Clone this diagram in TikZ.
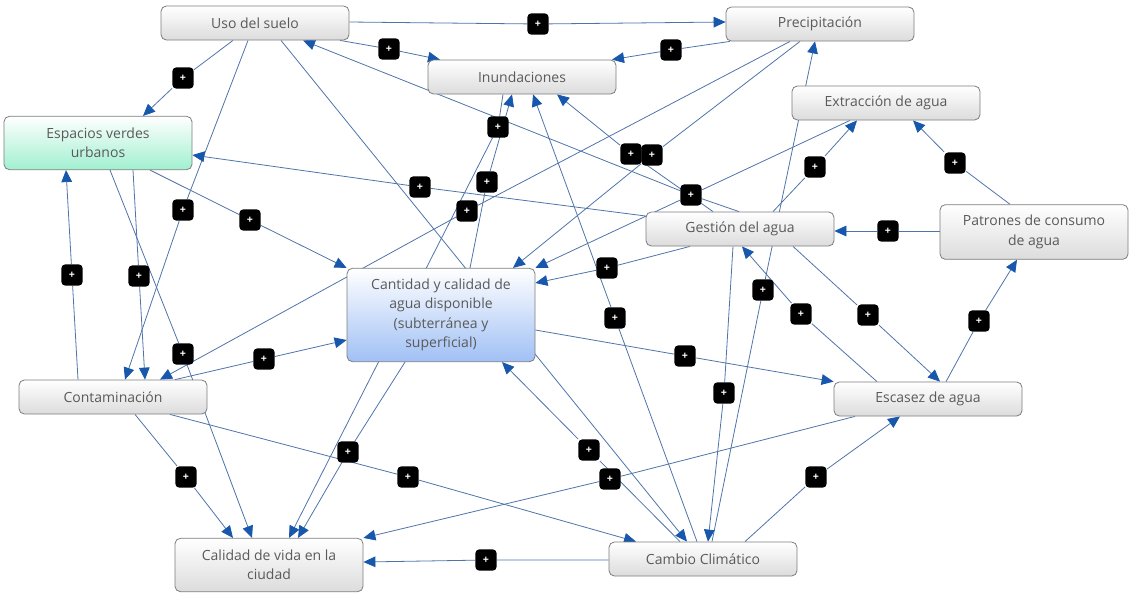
\documentclass[tikz,border=0pt]{standalone}
\usepackage{fontspec}
\setmainfont{Open Sans}
\usetikzlibrary{arrows.meta,backgrounds}
\definecolor{boxline}{RGB}{125,125,125}
\definecolor{boxlow}{RGB}{220,220,220}
\definecolor{txtgray}{RGB}{90,90,90}
\definecolor{linkblue}{RGB}{78,116,170}
\definecolor{tipblue}{RGB}{24,88,172}
\definecolor{mintlow}{RGB}{160,240,208}
\definecolor{bluelow}{RGB}{160,192,245}
\tikzset{concept/.style={draw=boxline,line width=.6pt,rounded corners=4pt,top color=white,
    bottom color=boxlow,minimum width=141pt,minimum height=25.5pt,align=center,text=txtgray,
    font=\fontsize{10.5}{14.5}\selectfont,inner sep=2pt},
  plus/.style={fill=black,rounded corners=3pt,minimum size=16pt,inner sep=0pt,text=white,
    font=\fontsize{8}{8}\selectfont\bfseries},
  link/.style={draw=linkblue,line width=.6pt,-{Triangle[length=9pt,width=8pt,color=tipblue]}},
  plain/.style={draw=linkblue,line width=.6pt}}

\begin{document}
\begin{tikzpicture}[x=.75pt,y=-.75pt]
  \path[use as bounding box] (0,0) rectangle (1130,594);
  % concepts
  \node[concept] (uso) at (255,23) {Uso del suelo};
  \node[concept] (prec) at (820,24) {Precipitación};
  \node[concept] (inun) at (522,77) {Inundaciones};
  \node[concept] (extr) at (886,103) {Extracción de agua};
  \node[concept,minimum height=40pt,bottom color=mintlow] (esp) at (98,143) {Espacios verdes\\urbanos};
  \node[concept] (gest) at (740,229) {Gestión del agua};
  \node[concept,minimum height=41pt] (patr) at (1034,232) {Patrones de consumo\\de agua};
  \node[concept,minimum height=70pt,bottom color=bluelow] (cant) at (441,315)
    {Cantidad y calidad de\\agua disponible\\(subterránea y\\superficial)};
  \node[concept] (cont) at (113,397) {Contaminación};
  \node[concept] (esc) at (928,399) {Escasez de agua};
  \node[concept,minimum height=40pt] (cal) at (269,565) {Calidad de vida en la\\ciudad};
  \node[concept] (camb) at (703,559) {Cambio Climático};
  % linking phrases
  \node[plus] (p1) at (538,24) {+};
  \node[plus] (p2) at (389,49) {+};
  \node[plus] (p3) at (671,50) {+};
  \node[plus] (p4) at (183,78) {+};
  \node[plus] (p5) at (498,127) {+};
  \node[plus] (p6) at (631,154) {+};
  \node[plus] (p7) at (652,155) {+};
  \node[plus] (p8) at (815,167) {+};
  \node[plus] (p9) at (955,163) {+};
  \node[plus] (p10) at (487,182) {+};
  \node[plus] (p11) at (420,187) {+};
  \node[plus] (p12) at (691,195) {+};
  \node[plus] (p13) at (183,210) {+};
  \node[plus] (p14) at (250,220) {+};
  \node[plus] (p15) at (467,211) {+};
  \node[plus] (p16) at (888,231) {+};
  \node[plus] (p17) at (72,275) {+};
  \node[plus] (p18) at (139,276) {+};
  \node[plus] (p19) at (607,268) {+};
  \node[plus] (p20) at (763,290) {+};
  \node[plus] (p21) at (801,314) {+};
  \node[plus] (p22) at (868,315) {+};
  \node[plus] (p23) at (979,321) {+};
  \node[plus] (p24) at (615,318) {+};
  \node[plus] (p25) at (183,354) {+};
  \node[plus] (p26) at (264,359) {+};
  \node[plus] (p27) at (685,356) {+};
  \node[plus] (p28) at (724,393) {+};
  \node[plus] (p29) at (186,477) {+};
  \node[plus] (p30) at (348,452) {+};
  \node[plus] (p31) at (408,477) {+};
  \node[plus] (p32) at (589,450) {+};
  \node[plus] (p33) at (610,479) {+};
  \node[plus] (p34) at (816,477) {+};
  \node[plus] (p35) at (486,560) {+};
  % links
  \begin{scope}[on background layer]
    \draw[link] (uso.east |- 0,22) -- (p1) -- (prec.west |- 0,22);
    \draw[link] (uso.south -| 340,0) -- (p2) -- (inun.north -| 440,0);
    \draw[link] (prec.south -| 730,0) -- (p3) -- (inun.north -| 612,0);
    \draw[link] (uso.south -| 233,0) -- (p4) -- (esp.north -| 143,0);
    \draw[link] (uso.south -| 248,0) -- (p13) -- (cont.north -| 125,0);
    \draw[link] (esp.south -| 150,0) -- (p14) -- (cant.north west);
    \draw[link] (cont.north -| 78,0) -- (p17) -- (esp.south -| 66,0);
    \draw[link] (esp.south -| 133,0) -- (p18) -- (cont.north -| 145,0);
    \draw[link] (esp.south -| 110,0) -- (p25) -- (cal.north -| 252,0);
    \draw[link] (prec.south -| 790,0) -- (p15) -- (cont.north -| 160,0);
    \draw[link] (gest.west |- 0,216) -- (p11) -- (esp.east |- 0,155);
    \draw[link] (extr.south -| 850,0) -- (p12) -- (cant.north east);
    \draw[link] (gest.north -| 739,0) -- (p12) -- (uso.south -| 303,0);
    \draw[link] (gest.north -| 713,0) -- (p6) -- (inun.south -| 557,0);
    \draw[link] (prec.south -| 800,0) -- (p7) -- (cant.north -| 513,0);
    \draw[link] (gest.north -| 773,0) -- (p8) -- (extr.south -| 857,0);
    \draw[link] (patr.north -| 1010,0) -- (p9) -- (extr.south -| 913,0);
    \draw[link] (patr.west |- 0,231) -- (p16) -- (gest.east |- 0,231);
    \draw[link] (gest.south -| 690,0) -- (p19) -- (cant.east |- 0,283);
    \draw[link] (camb.north -| 712,0) -- (p20) -- (prec.south -| 815,0);
    \draw[link] (esc.north -| 877,0) -- (p21) -- (gest.south -| 742,0);
    \draw[link] (gest.south -| 793,0) -- (p22) -- (esc.north -| 940,0);
    \draw[link] (esc.north -| 946,0) -- (p23) -- (patr.south -| 1017,0);
    \draw[link] (camb.north -| 697,0) -- (p24) -- (inun.south -| 533,0);
    \draw[link] (cont.north -| 175,0) -- (p26) -- (cant.west |- 0,340);
    \draw[link] (cant.east |- 0,330) -- (p27) -- (esc.north west);
    \draw[link] (gest.south -| 733,0) -- (p28) -- (camb.north -| 708,0);
    \draw[link] (cont.south -| 135,0) -- (p29) -- (cal.north -| 233,0);
    \draw[link] (cant.south -| 405,0) -- (p30) -- (cal.north -| 298,0);
    \draw[link] (cont.south -| 170,0) -- (p31) -- (camb.north -| 636,0);
    \draw[link] (camb.north -| 680,0) -- (p32) -- (cant.south -| 502,0);
    \draw[link] (esc.south -| 855,0) -- (p33) -- (cal.north east);
    \draw[link] (camb.north -| 745,0) -- (p34) -- (esc.south -| 900,0);
    \draw[link] (camb.west |- 0,560) -- (p35) -- (cal.east |- 0,562);
    \draw[link] (uso.south -| 281,0) -- (camb.north -| 687,0);
    \draw[link] (inun.south -| 503,0) -- (p5) -- (cal.north -| 289,0);
    \draw[link] (cant.north -| 470,0) -- (p10) -- (inun.south -| 512,0);
  \end{scope}
\end{tikzpicture}
\end{document}
